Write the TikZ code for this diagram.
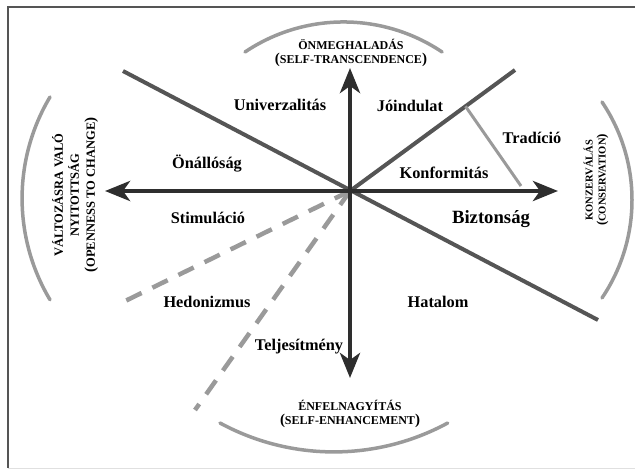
\documentclass[tikz,border=0pt]{standalone}
\usepackage{fontspec}
\setmainfont{Liberation Serif}
\usetikzlibrary{arrows.meta,calc}
\definecolor{axisgray}{HTML}{2E2E2E}
\definecolor{linegray}{HTML}{555555}
\definecolor{lightgray}{HTML}{9A9A9A}
\definecolor{framegray}{HTML}{555555}
\newcommand\myparen[1]{{\fontsize{15}{14}\selectfont #1}}
\begin{document}
\begin{tikzpicture}[x=1pt,y=-1pt,
  valuelabel/.style={font=\bfseries\fontsize{16.3}{19}\selectfont, inner sep=0pt, anchor=base},
  catlabel/.style={font=\bfseries\fontsize{12}{14}\selectfont, align=center, inner sep=0pt},
  axisline/.style={line width=4.5pt, draw=axisgray,
    {Stealth[length=25pt,width=20pt,inset=7pt]}-{Stealth[length=25pt,width=20pt,inset=7pt]}},
  divline/.style={line width=4pt, draw=linegray},
  thinline/.style={line width=3pt, draw=lightgray},
  dashline/.style={line width=4.5pt, draw=lightgray, dash pattern=on 17pt off 12pt},
  arcline/.style={line width=3.5pt, draw=lightgray, line cap=round},
  framestyle/.style={line width=1.6pt, draw=framegray}
]
\useasboundingbox (0,0) rectangle (635,469);
% frame
\coordinate (F1) at (635,7);
\coordinate (F2) at (8,7);
\coordinate (F3) at (8,468);
\coordinate (F4) at (635,468);
\draw[framestyle] (F1) -- (F2) -- (F3);
\draw[line width=0.8pt, draw=black!12] (F3) -- (F4);

% key points
\coordinate (O) at (350,191);
\coordinate (N) at (350,68);
\coordinate (S) at (350,378);
\coordinate (W) at (105,191);
\coordinate (E) at (558,191);
\coordinate (UL) at (123,71);
\coordinate (LR) at (598,320);
\coordinate (UR) at (515,70);
\coordinate (T1) at ($(O)!0.70!(UR)$);
\coordinate (T2) at (521,186);
\coordinate (D1) at (117,305);
\coordinate (D2) at (195,410);

% dividing lines
\draw[dashline] (O) -- (D1);
\draw[dashline] (O) -- (D2);
\draw[divline] (UL) -- (LR);
\draw[divline] (O) -- (UR);
\draw[thinline] (T1) -- (T2);

% axes
\draw[axisline] (S) -- (N);
\draw[axisline] (W) -- (E);

% arcs
\coordinate (A1) at (245,52);
\coordinate (A2) at (220,423);
\coordinate (A3) at (50,97);
\coordinate (A4) at (602,102);
\draw[arcline] (A1) arc[start angle=-123.9, end angle=-56.1, radius=176.7];
\draw[arcline] (A2) arc[start angle=118.5, end angle=61.5, radius=238.6];
\draw[arcline] (A3) arc[start angle=210.8, end angle=149.2, radius=198];
\draw[arcline] (A4) arc[start angle=-34.05, end angle=34.05, radius=175];

% category labels
\node[catlabel] (top) at (351,53) {ÖNMEGHALADÁS\\\myparen(SELF-TRANSCENDENCE\myparen)};
\node[catlabel] (bottom) at (350,414) {ÉNFELNAGYÍTÁS\\\myparen(SELF-ENHANCEMENT\myparen)};
\node[catlabel, rotate=90, font=\bfseries\fontsize{12.5}{16}\selectfont] (left) at (75,195)
  {VÁLTOZÁSRA VALÓ\\NYITOTTSÁG\\\myparen(OPENNESS TO CHANGE\myparen)};
\node[catlabel, rotate=90, font=\bfseries\fontsize{10.5}{13}\selectfont] (right) at (596,180)
  {KONZERVÁLÁS\\{\fontsize{13}{13}\selectfont(}CONSERVATION{\fontsize{13}{13}\selectfont)}};

% value labels
\node[valuelabel] (univ) at (280,110) {Univerzalitás};
\node[valuelabel] (joind) at (410,111) {Jóindulat};
\node[valuelabel] (onall) at (207,168) {Önállóság};
\node[valuelabel] (trad) at (532,143) {Tradíció};
\node[valuelabel] (konf) at (444,178) {Konformitás};
\node[valuelabel] (stim) at (208,223) {Stimuláció};
\node[valuelabel, font=\bfseries\fontsize{18.7}{22}\selectfont] (bizt) at (491,223) {Biztonság};
\node[valuelabel] (hedo) at (207,307) {Hedonizmus};
\node[valuelabel] (hata) at (438,307) {Hatalom};
\node[valuelabel] (telj) at (299,350) {Teljesítmény};
\end{tikzpicture}
\end{document}
